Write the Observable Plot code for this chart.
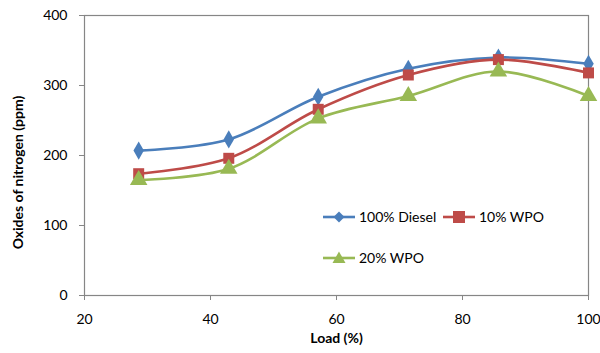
<!DOCTYPE html>
<html><head><meta charset="utf-8">
<script src="https://cdn.jsdelivr.net/npm/d3@7"></script>
<script src="https://cdn.jsdelivr.net/npm/@observablehq/plot@0.6"></script>
<style>
body{margin:0;background:#fff;font-family:Lato,"Open Sans",sans-serif;}
#wrap{position:relative;width:600px;height:353px;}
#legend{position:absolute;left:322px;top:208px;font-size:14px;color:#000;}
.item{position:absolute;white-space:nowrap;display:flex;align-items:center;}
.item svg{margin-right:3px}
</style></head><body>
<div id="wrap"><div id="chart"></div><div id="legend"></div></div>
<script>
const load = [28.6, 42.9, 57.1, 71.4, 85.7, 100];
const diesel = [207, 223, 284, 324, 340, 331];
const wpo10 = [174, 196, 266, 315, 337, 318];
const wpo20 = [165, 181, 253, 285, 320, 285];
const seriesNames = ["100% Diesel", "10% WPO", "20% WPO"];
const colors = ["#4A7EBB", "#BE4B48", "#98B954"];
const symbols = ["diamond", "square", "triangle"];
const xTicks = [20, 40, 60, 80, 100];
const yTicks = [0, 100, 200, 300, 400];

const allSeries = [diesel, wpo10, wpo20];
const data = allSeries.flatMap((vals, i) => vals.map((v, j) => ({load: load[j], nox: v, series: seriesNames[i]})));
const radii = {"100% Diesel": 5.5, "10% WPO": 6.2, "20% WPO": 6.5};

const chart = Plot.plot({
  width: 600, height: 353,
  marginLeft: 84, marginRight: 12, marginTop: 15, marginBottom: 58,
  style: {fontFamily: "Lato,'Open Sans',sans-serif", fontSize: "14px", color: "#000", background: "#fff"},
  x: {domain: [20, 100], label: null},
  y: {domain: [0, 400], label: null},
  color: {domain: seriesNames, range: colors},
  symbol: {domain: seriesNames, range: symbols},
  marks: [
    Plot.frame({stroke: "#868686", strokeWidth: 1.2}),
    Plot.axisX({ticks: xTicks, tickSize: 5, tickPadding: 14, stroke: "#868686", fontSize: 14, label: null}),
    Plot.axisY({ticks: yTicks, tickSize: 5, tickPadding: 12, stroke: "#868686", fontSize: 14, label: null}),
    Plot.line(data, {x: "load", y: "nox", z: "series", stroke: "series", strokeWidth: 2.6, curve: "catmull-rom"}),
    ...seriesNames.map(s => Plot.dot(data.filter(d => d.series === s), {x: "load", y: "nox", fill: "series", symbol: "series", r: radii[s], stroke: "none"})),
    Plot.text(["Load (%)"], {frameAnchor: "bottom", dy: 47, fontWeight: "bold", fontSize: 14}),
    Plot.text(["Oxides of nitrogen (ppm)"], {frameAnchor: "left", textAnchor: "middle", dx: -66, dy: 17, rotate: -90, fontWeight: "bold", fontSize: 14})
  ]
});
document.getElementById("chart").appendChild(chart);

// legend
const legend = document.getElementById("legend");
const pos = [[0,0],[120,0],[0,41]];
const symPaths = {
  diamond: '<path d="M0,-5.5L5.5,0L0,5.5L-5.5,0Z"/>',
  square: '<rect x="-6" y="-6" width="12" height="12"/>',
  triangle: '<path d="M0,-6.5L6.5,5L-6.5,5Z"/>'
};
seriesNames.forEach((s, i) => {
  const el = document.createElement("div");
  el.className = "item";
  el.style.left = pos[i][0] + "px";
  el.style.top = pos[i][1] + "px";
  el.innerHTML = `<svg width="34" height="16" viewBox="-17 -8 34 16"><line x1="-16" x2="16" y1="0" y2="0" stroke="${colors[i]}" stroke-width="2.6"/><g fill="${colors[i]}">${symPaths[symbols[i]]}</g></svg><span>${s}</span>`;
  legend.appendChild(el);
});
</script>
</body></html>
